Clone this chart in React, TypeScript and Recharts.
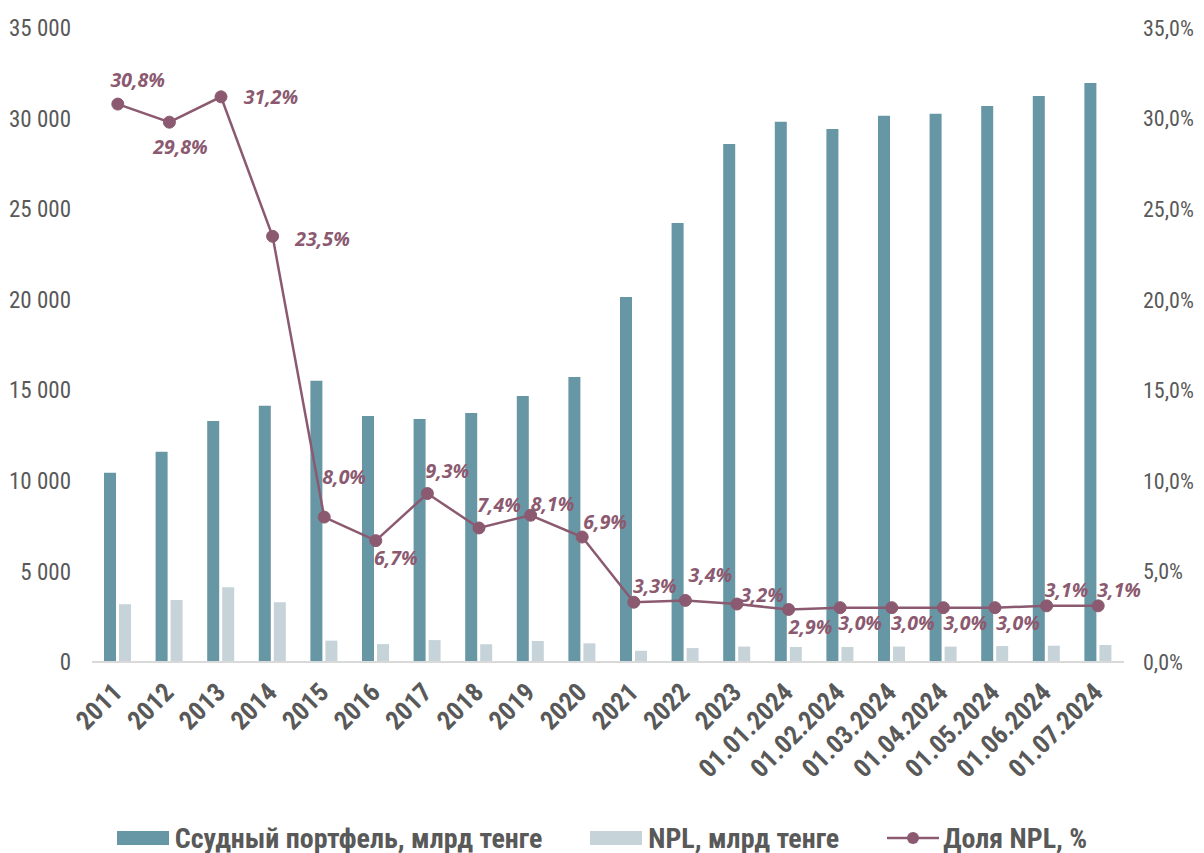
import React from 'react';
import { ComposedChart, Bar, Line, XAxis, YAxis, Legend, LabelList } from 'recharts';

const categories = ['2011', '2012', '2013', '2014', '2015', '2016', '2017', '2018', '2019', '2020', '2021', '2022', '2023', '01.01.2024', '01.02.2024', '01.03.2024', '01.04.2024', '01.05.2024', '01.06.2024', '01.07.2024'];
const loanPortfolio = [10450, 11600, 13300, 14150, 15520, 13580, 13420, 13750, 14690, 15740, 20150, 24240, 28600, 29820, 29430, 30150, 30260, 30700, 31250, 31970];
const nplAmount = [3190, 3420, 4120, 3300, 1180, 990, 1210, 980, 1160, 1030, 620, 770, 850, 830, 830, 850, 850, 880, 900, 940];
const nplShare = [30.8, 29.8, 31.2, 23.5, 8.0, 6.7, 9.3, 7.4, 8.1, 6.9, 3.3, 3.4, 3.2, 2.9, 3.0, 3.0, 3.0, 3.0, 3.1, 3.1];
const leftTicks = [0, 5000, 10000, 15000, 20000, 25000, 30000, 35000];
const rightTicks = [0, 5, 10, 15, 20, 25, 30, 35];
const seriesNames = ['Ссудный портфель, млрд тенге', 'NPL, млрд тенге', 'Доля NPL, %'];

// label placement (dx, dy of label centre relative to the point) — styling only
const labelOffsets: [number, number][] = [
  [20, -25], [11, 24], [50, 0], [50, 2], [20, -41], [20, 17], [20, -23], [20, -23], [22, -12], [23, -16],
  [21, -17], [25, -26], [25, -10], [22, 17], [20, 15], [21, 15], [22, 15], [23, 15], [20, -16], [21, -16],
];

const data = categories.map((c, i) => ({
  name: c,
  loans: loanPortfolio[i],
  npl: nplAmount[i],
  share: nplShare[i],
}));

const DARK = '#6796A4';
const LIGHT = '#C6D4D9';
const LINE = '#8B5A70';
const TEXT = '#595959';
const NARROW = "'Liberation Sans Narrow', 'Arial Narrow', 'Roboto Condensed', sans-serif";

const fmtThousands = (v: number) => String(v).replace(/\B(?=(\d{3})+(?!\d))/g, ' ');
const fmtPct = (v: number) => v.toFixed(1).replace('.', ',') + '%';

const XTick = (props: any) => {
  const { x, y, payload } = props;
  const ax = x + 6;
  const ay = y + 24;
  return (
    <text
      x={ax}
      y={ay}
      transform={`rotate(-45 ${ax} ${ay})`}
      textAnchor="end"
      fill={TEXT}
      fontFamily={NARROW}
      fontWeight="bold"
      fontSize={26}
    >
      {payload.value}
    </text>
  );
};

const ShareLabel = (props: any) => {
  const { x, y, value, index } = props;
  const [dx, dy] = labelOffsets[index] || [20, -20];
  return (
    <text
      x={x + dx}
      y={y + dy}
      textAnchor="middle"
      dominantBaseline="central"
      fill={LINE}
      fontFamily="'Open Sans', sans-serif"
      fontStyle="italic"
      fontWeight="bold"
      fontSize={19.5}
    >
      {fmtPct(value)}
    </text>
  );
};

const LegendContent = () => (
  <div
    style={{
      display: 'flex',
      justifyContent: 'center',
      alignItems: 'center',
      gap: 48,
      fontFamily: NARROW,
      fontWeight: 'bold',
      fontSize: 28,
      color: TEXT,
      height: 36,
    }}
  >
    <div style={{ display: 'flex', alignItems: 'center' }}>
      <span style={{ display: 'inline-block', width: 52, height: 14, background: DARK, marginRight: 6 }} />
      <span>{seriesNames[0]}</span>
    </div>
    <div style={{ display: 'flex', alignItems: 'center' }}>
      <span style={{ display: 'inline-block', width: 52, height: 14, background: LIGHT, marginRight: 6 }} />
      <span>{seriesNames[1]}</span>
    </div>
    <div style={{ display: 'flex', alignItems: 'center' }}>
      <svg width={52} height={16} style={{ marginRight: 4 }}>
        <line x1={0} y1={8} x2={52} y2={8} stroke={LINE} strokeWidth={2.5} />
        <circle cx={26} cy={8} r={6} fill={LINE} />
      </svg>
      <span>{seriesNames[2]}</span>
    </div>
  </div>
);

export default function App() {
  return (
    <ComposedChart
      width={1188}
      height={845}
      data={data}
      margin={{ top: 20, right: 0, bottom: 0, left: 0 }}
      barGap={3}
    >
      <XAxis
        dataKey="name"
        xAxisId="x"
        height={155}
        interval={0}
        tickLine={false}
        axisLine={{ stroke: '#D9D9D9', strokeWidth: 2 }}
        tick={<XTick />}
      />
      <YAxis
        yAxisId="left"
        orientation="left"
        width={84}
        domain={[0, 35000]}
        ticks={leftTicks}
        tickFormatter={fmtThousands}
        axisLine={false}
        tickLine={false}
        tickSize={0}
        tickMargin={21}
        tick={{ fill: TEXT, fontFamily: NARROW, fontSize: 23 }}
      />
      <YAxis
        yAxisId="right"
        orientation="right"
        width={72}
        domain={[0, 35]}
        ticks={rightTicks}
        tickFormatter={fmtPct}
        axisLine={false}
        tickLine={false}
        tickSize={0}
        tickMargin={19}
        tick={{ fill: TEXT, fontFamily: NARROW, fontSize: 22, textAnchor: 'start' }}
      />
      <Bar xAxisId="x" yAxisId="left" dataKey="loans" name={seriesNames[0]} fill={DARK} barSize={12} isAnimationActive={false} />
      <Bar xAxisId="x" yAxisId="left" dataKey="npl" name={seriesNames[1]} fill={LIGHT} barSize={12} isAnimationActive={false} />
      <Line
        xAxisId="x"
        yAxisId="right"
        dataKey="share"
        name={seriesNames[2]}
        stroke={LINE}
        strokeWidth={2.5}
        dot={{ r: 6, fill: LINE, stroke: LINE, strokeWidth: 1 }}
        activeDot={false}
        isAnimationActive={false}
      >
        <LabelList dataKey="share" content={<ShareLabel />} />
      </Line>
      <Legend
        verticalAlign="bottom"
        content={<LegendContent />}
        wrapperStyle={{ height: 36, bottom: -3 }}
      />
    </ComposedChart>
  );
}
